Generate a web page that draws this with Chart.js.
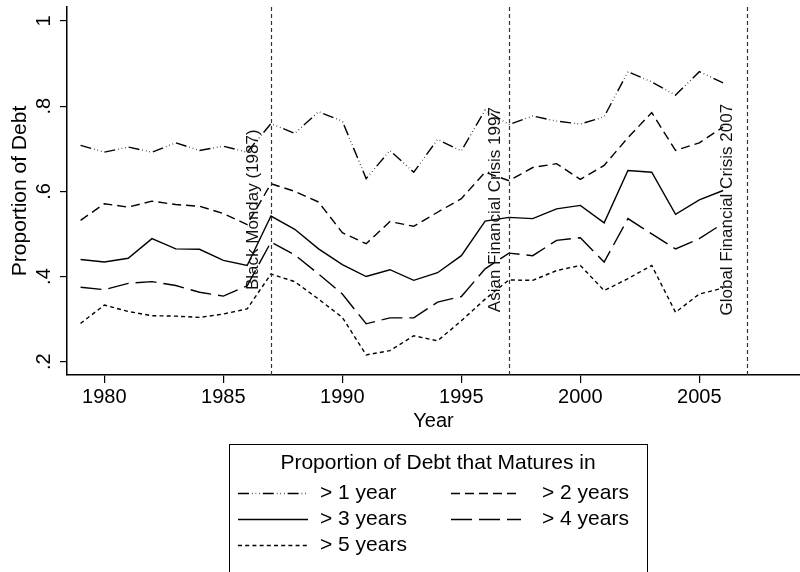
<!DOCTYPE html>
<html><head><meta charset="utf-8">
<script src="https://cdn.jsdelivr.net/npm/chart.js@4.4.1/dist/chart.umd.min.js"></script>
<style>html,body{margin:0;padding:0;background:#fff}#wrap{width:800px;height:572px;position:relative}canvas{display:block}</style>
</head><body><div id="wrap"><canvas id="c" width="800" height="572"></canvas></div>
<script>
// ---------- data ----------
const years = [1979,1980,1981,1982,1983,1984,1985,1986,1987,1988,1989,1990,1991,1992,1993,1994,1995,1996,1997,1998,1999,2000,2001,2002,2003,2004,2005,2006];
const seriesNames = ['> 1 year','> 2 years','> 3 years','> 4 years','> 5 years'];
const gt1 = [0.708,0.692,0.704,0.692,0.714,0.696,0.706,0.692, 0.759,0.736,0.787,0.765,0.630,0.696,0.645,0.722,0.695,0.791, 0.757,0.777,0.765,0.758,0.775,0.881,0.857,0.826,0.881,0.855];
const gt2 = [0.532,0.571,0.563,0.577,0.569,0.565,0.548,0.522, 0.618,0.600,0.575,0.503,0.477,0.529,0.518,0.551,0.583,0.645, 0.625,0.656,0.665,0.628,0.661,0.726,0.785,0.696,0.714,0.751];
const gt3 = [0.440,0.434,0.443,0.489,0.465,0.464,0.438,0.426, 0.542,0.511,0.465,0.428,0.400,0.416,0.391,0.409,0.449,0.530, 0.539,0.536,0.559,0.567,0.526,0.649,0.645,0.546,0.580,0.602];
const gt4 = [0.375,0.369,0.384,0.388,0.379,0.363,0.354,0.378, 0.481,0.451,0.406,0.359,0.289,0.303,0.303,0.340,0.353,0.418, 0.455,0.449,0.485,0.491,0.434,0.536,0.500,0.465,0.489,0.525];
const gt5 = [0.290,0.333,0.318,0.308,0.307,0.304,0.312,0.324, 0.406,0.388,0.347,0.304,0.216,0.226,0.261,0.249,0.296,0.347, 0.392,0.391,0.414,0.426,0.367,0.395,0.426,0.316,0.359,0.373];
const xTickValues = [1980,1985,1990,1995,2000,2005];
const xTickLabels = ['1980','1985','1990','1995','2000','2005'];
const yTickValues = [0.2,0.4,0.6,0.8,1];
const yTickLabels = ['.2','.4','.6','.8','1'];
const eventYears = [1987,1997,2007];
const eventLabels = ['Black Monday (1987)','Asian Financial Crisis 1997','Global Financial Crisis 2007'];
const legendTitle = 'Proportion of Debt that Matures in';
const xTitle = 'Year';
const yTitle = 'Proportion of Debt';

// ---------- styles ----------
const FONT = '"Liberation Sans", Arial, Helvetica, sans-serif';
const dashes = [[11,3,0.6,3,0.6,3,0.6,3],[9,5],[],[21,7],[4,3.2]];
const allSeries = [gt1,gt2,gt3,gt4,gt5];

const datasets = allSeries.map((s,i)=>({
  label: seriesNames[i],
  data: s.map((v,j)=>({x: years[j], y: v})),
  borderColor: '#000',
  backgroundColor: '#000',
  borderWidth: 1.4,
  borderDash: dashes[i],
  borderCapStyle: 'butt',
  pointRadius: 0,
  fill: false,
  tension: 0
}));

const extras = {
  id: 'extras',
  afterDatasetsDraw(chart) {
    const ctx = chart.ctx, xs = chart.scales.x, ys = chart.scales.y, ca = chart.chartArea;
    ctx.save();
    // event lines
    ctx.strokeStyle = '#333'; ctx.lineWidth = 1.2; ctx.setLineDash([4,3]);
    eventYears.forEach(yr => {
      const px = Math.round(xs.getPixelForValue(yr)) + 0.5;
      ctx.beginPath(); ctx.moveTo(px, ca.top); ctx.lineTo(px, ca.bottom); ctx.stroke();
    });
    ctx.setLineDash([]);
    // event labels
    const offs = [18, 14, 20];
    ctx.fillStyle = '#111'; ctx.font = '17px ' + FONT;
    ctx.textAlign = 'center'; ctx.textBaseline = 'middle';
    eventYears.forEach((yr,i) => {
      const px = xs.getPixelForValue(yr) - offs[i];
      const py = ys.getPixelForValue(0.557);
      ctx.save(); ctx.translate(px, py); ctx.rotate(-Math.PI/2);
      ctx.fillText(eventLabels[i], 0, 0); ctx.restore();
    });
    // y tick labels (rotated)
    ctx.fillStyle = '#000'; ctx.font = '20px ' + FONT;
    yTickValues.forEach((v,i) => {
      const py = ys.getPixelForValue(v);
      ctx.save(); ctx.translate(44, py); ctx.rotate(-Math.PI/2);
      ctx.fillText(yTickLabels[i], 0, 0); ctx.restore();
    });
    // legend
    const L = 229, R = 647, T = 444, B = 580;
    ctx.strokeStyle = '#000'; ctx.lineWidth = 1;
    ctx.strokeRect(L + 0.5, T + 0.5, R - L, B - T);
    ctx.font = '21px ' + FONT; ctx.fillStyle = '#000';
    ctx.textAlign = 'center';
    ctx.fillText(legendTitle, (L + R) / 2, 463);
    const colSx = [238, 451], colTx = [320, 542], rowY = [493, 519, 545];
    chart.data.datasets.forEach((ds, i) => {
      const c = i % 2, r = Math.floor(i / 2);
      const yy = rowY[r];
      ctx.save();
      ctx.strokeStyle = ds.borderColor; ctx.lineWidth = ds.borderWidth;
      ctx.setLineDash(ds.borderDash || []);
      ctx.beginPath(); ctx.moveTo(colSx[c], yy + 0.5); ctx.lineTo(colSx[c] + 70, yy + 0.5); ctx.stroke();
      ctx.restore();
      ctx.textAlign = 'left';
      ctx.fillText(ds.label, colTx[c], yy);
    });
    ctx.restore();
  }
};

new Chart(document.getElementById('c'), {
  type: 'line',
  data: { datasets },
  options: {
    responsive: false,
    animation: false,
    devicePixelRatio: 1,
    layout: { padding: { top: 7, left: 0, right: 0, bottom: 137 } },
    plugins: { legend: { display: false }, tooltip: { enabled: false } },
    scales: {
      x: {
        type: 'linear', min: 1978.43, max: 2009.23,
        afterBuildTicks: s => { s.ticks = xTickValues.map(v => ({ value: v })); },
        afterFit: s => { s.height = 60; },
        ticks: {
          autoSkip: false, maxRotation: 0, minRotation: 0, padding: 2,
          color: '#000', font: { family: FONT, size: 20 },
          callback: v => xTickLabels[xTickValues.indexOf(v)]
        },
        grid: { display: true, drawOnChartArea: false, drawTicks: true, tickLength: 8, color: '#000', lineWidth: 1.2 },
        border: { display: true, color: '#000', width: 1.5 },
        title: { display: true, text: xTitle, color: '#000', font: { family: FONT, size: 20 }, padding: { top: 0, bottom: 2 } }
      },
      y: {
        type: 'linear', min: 0.1688, max: 1.0329,
        afterBuildTicks: s => { s.ticks = yTickValues.map(v => ({ value: v })); },
        afterFit: s => { s.width = 67; },
        ticks: { display: false },
        grid: { display: true, drawOnChartArea: false, drawTicks: true, tickLength: 7, color: '#000', lineWidth: 1.2 },
        border: { display: true, color: '#000', width: 1.5 },
        title: { display: true, text: yTitle, color: '#000', font: { family: FONT, size: 21 }, padding: { top: 8, bottom: 0 } }
      }
    }
  },
  plugins: [extras]
});
</script></body></html>
